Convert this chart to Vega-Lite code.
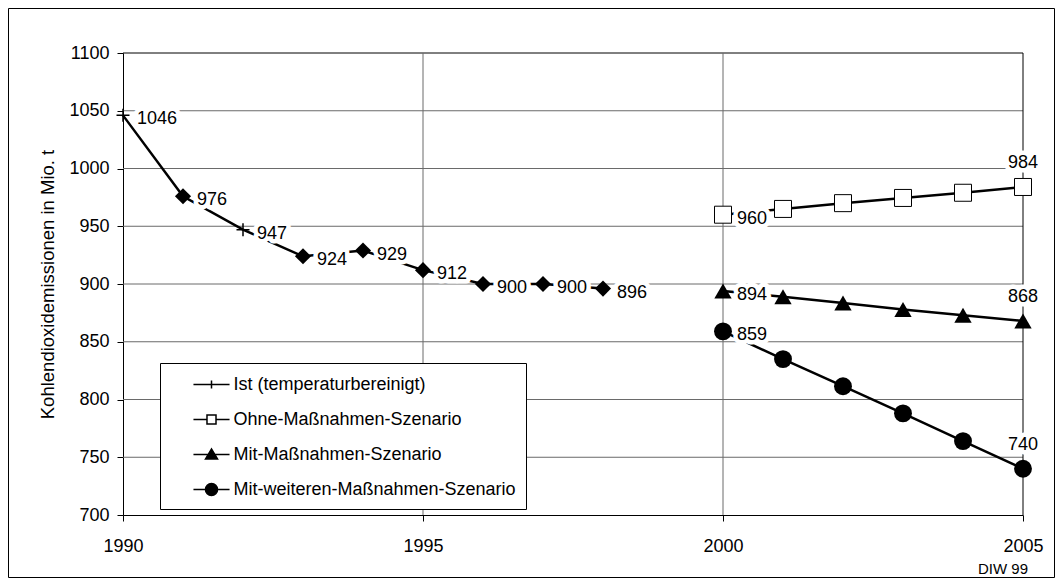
{
  "$schema": "https://vega.github.io/schema/vega-lite/v6.json",
  "width": 1046,
  "height": 569,
  "padding": 8,
  "autosize": {"type": "none"},
  "background": "white",
  "config": {
    "view": {"stroke": "black", "strokeWidth": 1},
    "font": "Liberation Sans",
    "legend": {
      "symbolSize": 484,
      "symbolStrokeWidth": 1.5,
      "symbolStrokeColor": "black",
      "symbolOffset": 30,
      "labelOffset": 10,
      "labelFont": "Liberation Sans",
      "labelFontSize": 18,
      "labelColor": "black",
      "rowPadding": 14,
      "padding": 9.5,
      "strokeColor": "black",
      "fillColor": "white",
      "labelLimit": 0
    }
  },
  "title": {
    "text": "DIW 99",
    "orient": "bottom",
    "anchor": "end",
    "frame": "group",
    "offset": -15,
    "dx": -26,
    "fontSize": 15,
    "fontWeight": "normal",
    "font": "Liberation Sans",
    "color": "black"
  },
  "datasets": {
    "werte": [
      {"jahr": 1990, "wert": 1046, "reihe": "Ist (temperaturbereinigt)"},
      {"jahr": 1991, "wert": 976, "reihe": "Ist (temperaturbereinigt)"},
      {"jahr": 1992, "wert": 947, "reihe": "Ist (temperaturbereinigt)"},
      {"jahr": 1993, "wert": 924, "reihe": "Ist (temperaturbereinigt)"},
      {"jahr": 1994, "wert": 929, "reihe": "Ist (temperaturbereinigt)"},
      {"jahr": 1995, "wert": 912, "reihe": "Ist (temperaturbereinigt)"},
      {"jahr": 1996, "wert": 900, "reihe": "Ist (temperaturbereinigt)"},
      {"jahr": 1997, "wert": 900, "reihe": "Ist (temperaturbereinigt)"},
      {"jahr": 1998, "wert": 896, "reihe": "Ist (temperaturbereinigt)"},
      {"jahr": 2000, "wert": 960, "reihe": "Ohne-Maßnahmen-Szenario"},
      {"jahr": 2001, "wert": 965, "reihe": "Ohne-Maßnahmen-Szenario"},
      {"jahr": 2002, "wert": 970, "reihe": "Ohne-Maßnahmen-Szenario"},
      {"jahr": 2003, "wert": 974.5, "reihe": "Ohne-Maßnahmen-Szenario"},
      {"jahr": 2004, "wert": 979, "reihe": "Ohne-Maßnahmen-Szenario"},
      {"jahr": 2005, "wert": 984, "reihe": "Ohne-Maßnahmen-Szenario"},
      {"jahr": 2000, "wert": 894, "reihe": "Mit-Maßnahmen-Szenario"},
      {"jahr": 2001, "wert": 889, "reihe": "Mit-Maßnahmen-Szenario"},
      {"jahr": 2002, "wert": 883.5, "reihe": "Mit-Maßnahmen-Szenario"},
      {"jahr": 2003, "wert": 878, "reihe": "Mit-Maßnahmen-Szenario"},
      {"jahr": 2004, "wert": 873, "reihe": "Mit-Maßnahmen-Szenario"},
      {"jahr": 2005, "wert": 868, "reihe": "Mit-Maßnahmen-Szenario"},
      {"jahr": 2000, "wert": 859, "reihe": "Mit-weiteren-Maßnahmen-Szenario"},
      {"jahr": 2001, "wert": 835, "reihe": "Mit-weiteren-Maßnahmen-Szenario"},
      {"jahr": 2002, "wert": 811.5, "reihe": "Mit-weiteren-Maßnahmen-Szenario"},
      {"jahr": 2003, "wert": 788, "reihe": "Mit-weiteren-Maßnahmen-Szenario"},
      {"jahr": 2004, "wert": 764, "reihe": "Mit-weiteren-Maßnahmen-Szenario"},
      {"jahr": 2005, "wert": 740, "reihe": "Mit-weiteren-Maßnahmen-Szenario"}
    ],
    "gitter_h": [
      {"jahr": 1990, "bis": 2005, "wert": 750, "art": "gitter"},
      {"jahr": 1990, "bis": 2005, "wert": 800, "art": "gitter"},
      {"jahr": 1990, "bis": 2005, "wert": 850, "art": "gitter"},
      {"jahr": 1990, "bis": 2005, "wert": 900, "art": "gitter"},
      {"jahr": 1990, "bis": 2005, "wert": 950, "art": "gitter"},
      {"jahr": 1990, "bis": 2005, "wert": 1000, "art": "gitter"},
      {"jahr": 1990, "bis": 2005, "wert": 1050, "art": "gitter"},
      {"jahr": 1990, "bis": 2005, "wert": 1100, "art": "rahmen"}
    ],
    "gitter_v": [
      {"jahr": 1995, "wert": 700, "bis": 1100, "art": "gitter"},
      {"jahr": 2000, "wert": 700, "bis": 1100, "art": "gitter"},
      {"jahr": 2005, "wert": 700, "bis": 1100, "art": "rahmen"}
    ]
  },
  "encoding": {
    "x": {
      "field": "jahr",
      "type": "quantitative",
      "title": null,
      "scale": {"domain": [1990, 2005], "range": [115, 1015], "nice": false, "zero": false},
      "axis": {
        "orient": "bottom",
        "offset": -62,
        "values": [1990, 1995, 2000, 2005],
        "format": "d",
        "title": null,
        "grid": false,
        "domainColor": "black",
        "tickColor": "black",
        "tickSize": 6,
        "labelFontSize": 18,
        "labelColor": "black",
        "labelPadding": 16,
        "labelFont": "Liberation Sans",
        "labelFlush": false
      }
    },
    "y": {
      "field": "wert",
      "type": "quantitative",
      "title": "Kohlendioxidemissionen in Mio. t",
      "scale": {"domain": [700, 1100], "range": [507, 45], "nice": false, "zero": false},
      "axis": {
        "orient": "left",
        "offset": -115,
        "values": [700, 750, 800, 850, 900, 950, 1000, 1050, 1100],
        "format": "d",
        "titleFont": "Liberation Sans",
        "titleFontSize": 18.5,
        "titleFontWeight": "normal",
        "titleColor": "black",
        "titlePadding": 11,
        "grid": false,
        "domainColor": "black",
        "tickColor": "black",
        "tickSize": 6,
        "labelFontSize": 18,
        "labelColor": "black",
        "labelPadding": 8,
        "labelFont": "Liberation Sans"
      }
    }
  },
  "layer": [
    {
      "data": {"name": "gitter_h"},
      "mark": {"type": "rule", "strokeWidth": 1},
      "encoding": {
        "x2": {"field": "bis"},
        "color": {"field": "art", "type": "nominal", "scale": {"domain": ["gitter", "rahmen"], "range": ["#6a6a6a", "black"]}, "legend": null}
      }
    },
    {
      "data": {"name": "gitter_v"},
      "mark": {"type": "rule", "strokeWidth": 1},
      "encoding": {
        "y2": {"field": "bis"},
        "color": {"field": "art", "type": "nominal", "scale": {"domain": ["gitter", "rahmen"], "range": ["#6a6a6a", "black"]}, "legend": null}
      }
    },
    {
      "data": {"name": "werte"},
      "mark": {"type": "line", "color": "black", "strokeWidth": 2.5},
      "encoding": {"detail": {"field": "reihe"}}
    },
    {
      "data": {"name": "werte"},
      "transform": [{"filter": "datum.reihe == 'Ist (temperaturbereinigt)' || datum.jahr == 2000"}],
      "mark": {"type": "text", "align": "left", "baseline": "middle", "dx": 14, "dy": 4, "fontSize": 18, "font": "Liberation Sans", "stroke": "white", "strokeWidth": 9, "strokeJoin": "round", "fill": "white"},
      "encoding": {"text": {"field": "wert", "type": "quantitative", "format": ".0f"}}
    },
    {
      "data": {"name": "werte"},
      "transform": [{"filter": "datum.jahr == 2005"}],
      "mark": {"type": "text", "align": "center", "baseline": "middle", "dy": -24, "fontSize": 18, "font": "Liberation Sans", "stroke": "white", "strokeWidth": 9, "strokeJoin": "round", "fill": "white"},
      "encoding": {"text": {"field": "wert", "type": "quantitative", "format": ".0f"}}
    },
    {
      "data": {"name": "werte"},
      "transform": [{"filter": "datum.reihe == 'Ist (temperaturbereinigt)' && datum.jahr != 1990 && datum.jahr != 1992"}],
      "mark": {"type": "point", "shape": "diamond", "size": 260, "filled": true, "color": "black", "opacity": 1}
    },
    {
      "data": {"name": "werte"},
      "transform": [{"filter": "datum.reihe == 'Ist (temperaturbereinigt)' && (datum.jahr == 1990 || datum.jahr == 1992)"}],
      "mark": {"type": "point", "shape": "M-1,0H1M0,-1V1", "size": 169, "filled": false, "stroke": "black", "strokeWidth": 1.5, "opacity": 1}
    },
    {
      "data": {"name": "werte"},
      "transform": [{"filter": "datum.reihe == 'Ohne-Maßnahmen-Szenario'"}],
      "mark": {"type": "point", "shape": "square", "size": 289, "filled": true, "fill": "white", "stroke": "black", "strokeWidth": 1, "opacity": 1}
    },
    {
      "data": {"name": "werte"},
      "transform": [{"filter": "datum.reihe == 'Mit-Maßnahmen-Szenario'"}],
      "mark": {"type": "point", "shape": "triangle-up", "size": 300, "filled": true, "color": "black", "opacity": 1}
    },
    {
      "data": {"name": "werte"},
      "transform": [{"filter": "datum.reihe == 'Mit-weiteren-Maßnahmen-Szenario'"}],
      "mark": {"type": "point", "shape": "circle", "size": 320, "filled": true, "color": "black", "opacity": 1}
    },
    {
      "data": {"name": "werte"},
      "transform": [{"filter": "datum.reihe == 'Ist (temperaturbereinigt)' || datum.jahr == 2000"}],
      "mark": {"type": "text", "align": "left", "baseline": "middle", "dx": 14, "dy": 4, "fontSize": 18, "font": "Liberation Sans", "fill": "black"},
      "encoding": {"text": {"field": "wert", "type": "quantitative", "format": ".0f"}}
    },
    {
      "data": {"name": "werte"},
      "transform": [{"filter": "datum.jahr == 2005"}],
      "mark": {"type": "text", "align": "center", "baseline": "middle", "dy": -24, "fontSize": 18, "font": "Liberation Sans", "fill": "black"},
      "encoding": {"text": {"field": "wert", "type": "quantitative", "format": ".0f"}}
    },
    {
      "data": {"name": "werte"},
      "mark": {"type": "point", "filled": true, "opacity": 0},
      "encoding": {
        "shape": {
          "field": "reihe",
          "type": "nominal",
          "scale": {
            "domain": ["Ist (temperaturbereinigt)", "Ohne-Maßnahmen-Szenario", "Mit-Maßnahmen-Szenario", "Mit-weiteren-Maßnahmen-Szenario"],
            "range": [
              "M-1.64,0H1.64M0,-0.36V0.36",
              "M-1.64,0H-0.41M0.41,0H1.64M-0.41,-0.41H0.41V0.41H-0.41Z",
              "M-1.64,0H1.64M-0.55,0.42L0,-0.5L0.55,0.42Z",
              "M-1.64,0H1.64M-0.55,0A0.55,0.55,0,1,0,0.55,0A0.55,0.55,0,1,0,-0.55,0Z"
            ]
          },
          "legend": {
            "orient": "none",
            "legendX": 152,
            "legendY": 355,
            "title": null,
            "encode": {
              "symbols": {
                "update": {
                  "opacity": {"value": 1},
                  "stroke": {"value": "black"},
                  "strokeWidth": {"value": 1.5},
                  "size": {"value": 484}
                }
              }
            }
          }
        },
        "fill": {
          "field": "reihe",
          "type": "nominal",
          "scale": {
            "domain": ["Ist (temperaturbereinigt)", "Ohne-Maßnahmen-Szenario", "Mit-Maßnahmen-Szenario", "Mit-weiteren-Maßnahmen-Szenario"],
            "range": ["black", "white", "black", "black"]
          },
          "legend": {
            "orient": "none",
            "legendX": 152,
            "legendY": 355,
            "title": null,
            "encode": {
              "symbols": {
                "update": {
                  "opacity": {"value": 1},
                  "stroke": {"value": "black"},
                  "strokeWidth": {"value": 1.5},
                  "size": {"value": 484}
                }
              }
            }
          }
        }
      }
    }
  ]
}
